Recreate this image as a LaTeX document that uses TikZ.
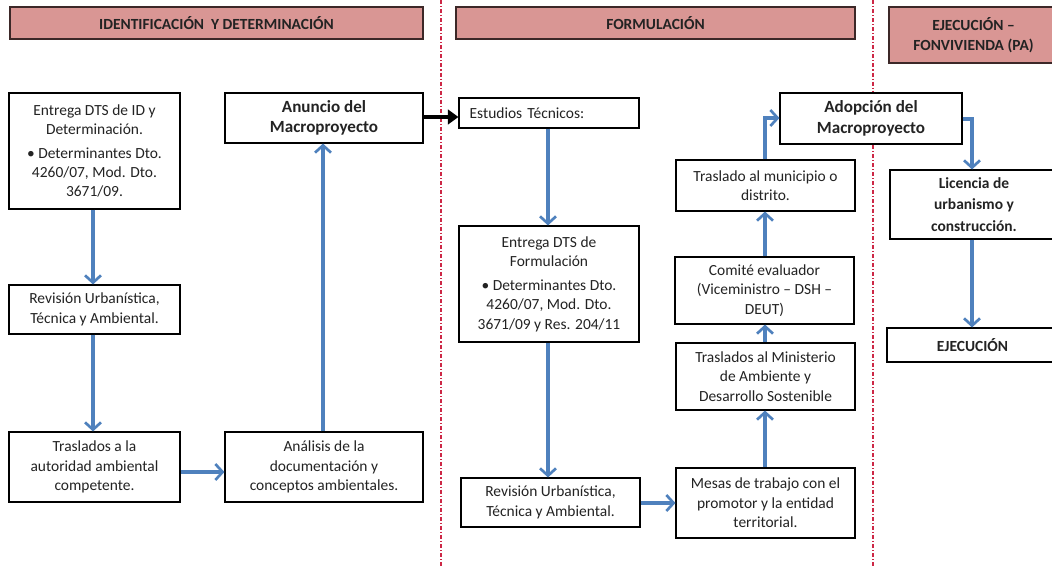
\documentclass[tikz,border=0pt]{standalone}
\usepackage{fontspec}
\setmainfont{Carlito}
\usetikzlibrary{arrows.meta}
\definecolor{hdrfill}{RGB}{217,150,148}
\definecolor{hdrline}{RGB}{60,40,40}
\definecolor{flowblue}{RGB}{79,129,189}
\definecolor{sepred}{RGB}{205,40,70}
\definecolor{txt}{RGB}{35,35,35}
\tikzset{
  rect/.style args={#1/#2/#3/#4}{minimum width={(#3-#1)*0.75pt}, minimum height={(#4-#2)*0.75pt}, at={({(#1+#3)/2},{(#2+#4)/2})}},
  basefont/.style={font=\fontsize{11.6}{14.6}\selectfont},
  hdr/.style={draw=hdrline, line width=1.1pt, fill=hdrfill, inner sep=0pt, align=center, font=\fontsize{11.6}{15}\selectfont\bfseries, text=txt},
  box/.style={draw=black, line width=0.8pt, fill=white, inner sep=0pt, align=center, text=txt, basefont},
  bigb/.style={font=\fontsize{12.8}{15.5}\selectfont\bfseries},
  boldb/.style={font=\fontsize{11.6}{16}\selectfont\bfseries},
  barrow/.style={draw=flowblue, line width=2.3pt, -{Straight Barb[length=5.5pt,width=12pt,line width=2pt]}},
  karrow/.style={draw=black, line width=3pt, -{Triangle[length=8pt,width=11pt]}},
  sep/.style={draw=sepred, line width=0.8pt, dash pattern=on 3pt off 1.5pt on 0.8pt off 1.5pt}
}
\begin{document}
\begin{tikzpicture}[x=0.75pt,y=-0.75pt]
\useasboundingbox (0,0) rectangle (1052,567);
% separators
\coordinate (s1t) at (441,0); \coordinate (s1b) at (441,567);
\coordinate (s2t) at (873,0); \coordinate (s2b) at (873,567);
\draw[sep] (s1t) -- (s1b);
\draw[sep] (s2t) -- (s2b);
% headers
\node[hdr, rect=10/7/423/39] (h1) {IDENTIFICACIÓN\ \ Y DETERMINACIÓN};
\node[hdr, rect=456/7/855/39] (h2) {FORMULACIÓN};
\node[hdr, rect=889/7/1058/63] (h3) {EJECUCIÓN –\\FONVIVIENDA (PA)};
% left column
\node[box, rect=9/93/180/209] (a) {Entrega DTS de ID y\\Determinación.\\[3pt]\textbullet\ Determinantes Dto.\\4260/07, Mod. Dto.\\3671/09.};
\node[box, rect=9/285/180/334] (b) {Revisión Urbanística,\\Técnica y Ambiental.};
\node[box, rect=9/432/180/502] (c) {Traslados a la\\autoridad ambiental\\competente.};
\node[box, rect=225/432/423/502] (d) {Análisis de la\\documentación y\\conceptos ambientales.};
\node[box, bigb, rect=225/93/423/143] (an) {Anuncio del\\Macroproyecto};
% middle column
\node[box, rect=459/98/639/128, align=left, text width={(639-459)*0.75pt-16pt}, inner xsep=8pt] (es) {Estudios Técnicos:};
\node[box, rect=459/226/639/342] (e2) {Entrega DTS de\\Formulación\\[3pt]\textbullet\ Determinantes Dto.\\4260/07, Mod. Dto.\\3671/09 y Res. 204/11};
\node[box, rect=461/478/640/527] (r2) {Revisión Urbanística,\\Técnica y Ambiental.};
\node[box, rect=676/468/855/538] (me) {Mesas de trabajo con el\\promotor y la entidad\\territorial.};
\node[box, rect=676/343/855/410] (mi) {Traslados al Ministerio\\de Ambiente y\\Desarrollo Sostenible};
\node[box, rect=675/257/854/324] (co) {Comité evaluador\\(Viceministro – DSH –\\DEUT)};
\node[box, rect=676/160/855/211] (tr) {Traslado al municipio o\\distrito.};
\node[box, bigb, rect=780/93/962/144] (ad) {Adopción del\\Macroproyecto};
% right column
\node[box, boldb, rect=890/170/1058/239] (li) {Licencia de\\urbanismo y\\construcción.};
\node[box, boldb, rect=887/328/1058/362] (ej) {EJECUCIÓN};
% connectors
\draw[barrow] (a.south -| 93,0) -- (b.north -| 93,0);
\draw[barrow] (b.south -| 93,0) -- (c.north -| 93,0);
\draw[barrow] (c.east |- 0,472) -- (d.west |- 0,472);
\draw[barrow] (d.north -| 323,0) -- (an.south -| 323,0);
\draw[karrow] (an.east |- 0,117) -- (es.west |- 0,117);
\draw[barrow] (es.south -| 548,0) -- (e2.north -| 548,0);
\draw[barrow] (e2.south -| 548,0) -- (r2.north -| 548,0);
\draw[barrow] (r2.east |- 0,503) -- (me.west |- 0,503);
\draw[barrow] (me.north -| 765,0) -- (mi.south -| 765,0);
\draw[barrow] (mi.north -| 765,0) -- (co.south -| 765,0);
\draw[barrow] (co.north -| 765,0) -- (tr.south -| 765,0);
\draw[barrow] (tr.north -| 765,0) |- (ad.west |- 0,118);
\draw[barrow] (ad.east |- 0,119) -| (li.north -| 972,0);
\draw[barrow] (li.south -| 972,0) -- (ej.north -| 972,0);
\end{tikzpicture}
\end{document}
